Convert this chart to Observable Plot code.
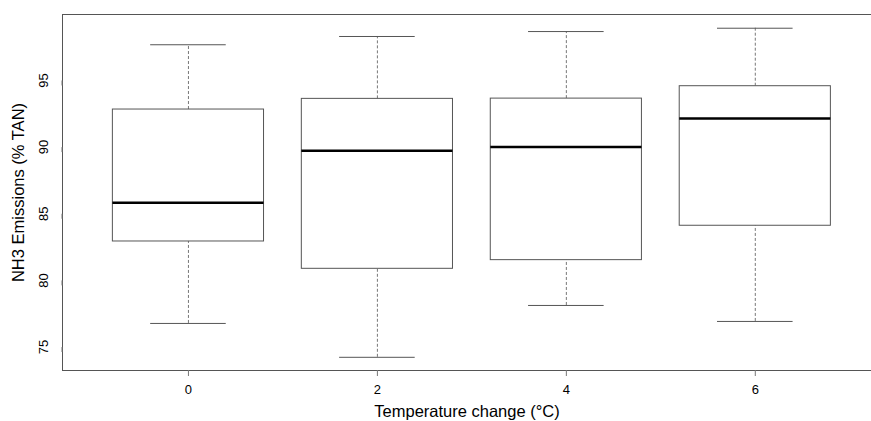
<!DOCTYPE html>
<html>
<head>
<meta charset="utf-8">
<script src="https://cdn.jsdelivr.net/npm/d3@7"></script>
<script src="https://cdn.jsdelivr.net/npm/@observablehq/plot@0.6"></script>
<style>
  html, body { margin: 0; padding: 0; background: #fff; }
  #chart svg { display: block; }
</style>
</head>
<body>
<div id="chart"></div>
<script>
// Temperature change groups (°C)
const groups = [0, 2, 4, 6];
// Box statistics for NH3 emissions (% TAN)
const lowerWhisker = [76.77, 74.23, 78.12, 76.92];
const q1 = [82.92, 80.87, 81.52, 84.10];
const median = [85.83, 89.73, 90.00, 92.15];
const q3 = [92.82, 93.62, 93.64, 94.57];
const upperWhisker = [97.68, 98.30, 98.67, 98.92];
const yTicks = [75, 80, 85, 90, 95];
const xTicks = [0, 2, 4, 6];

const data = groups.map((g, i) => ({
  g, lo: lowerWhisker[i], q1: q1[i], med: median[i], q3: q3[i], hi: upperWhisker[i]
}));

const boxHalf = 0.8, capHalf = 0.4;
const lineColor = "#555";
const font = "Liberation Sans, Arial, Helvetica, sans-serif";

const chart = Plot.plot({
  width: 871,
  height: 421,
  marginLeft: 62,
  marginRight: 0,
  marginTop: 14,
  marginBottom: 51,
  style: { fontFamily: font, fontSize: "13px", color: "#000", background: "#fff" },
  x: { domain: [-1.33, 7.23], range: [62.3, 871] },
  y: { domain: [73.24, 99.95] },
  marks: [
    // whiskers (dashed)
    Plot.ruleX(data, { x: "g", y1: "q3", y2: "hi", stroke: "#777", strokeDasharray: "3,2", strokeWidth: 1 }),
    Plot.ruleX(data, { x: "g", y1: "lo", y2: "q1", stroke: "#777", strokeDasharray: "3,2", strokeWidth: 1 }),
    // caps
    Plot.ruleY(data, { y: "hi", x1: d => d.g - capHalf, x2: d => d.g + capHalf, stroke: lineColor, strokeWidth: 1 }),
    Plot.ruleY(data, { y: "lo", x1: d => d.g - capHalf, x2: d => d.g + capHalf, stroke: lineColor, strokeWidth: 1 }),
    // boxes
    Plot.rect(data, { x1: d => d.g - boxHalf, x2: d => d.g + boxHalf, y1: "q1", y2: "q3", fill: "#fff", stroke: lineColor, strokeWidth: 1 }),
    // medians
    Plot.ruleY(data, { y: "med", x1: d => d.g - boxHalf, x2: d => d.g + boxHalf, stroke: "#000", strokeWidth: 2.5 }),
    // frame (no right edge: image cropped)
    Plot.frame({ anchor: "left", stroke: lineColor }),
    Plot.frame({ anchor: "top", stroke: lineColor }),
    Plot.frame({ anchor: "bottom", stroke: lineColor }),
    // axes
    Plot.axisY({
      ticks: yTicks, tickSize: 5, tickPadding: 14, stroke: "#777",
      rotate: -90, textAnchor: "middle", fontSize: 13,
      label: "NH3 Emissions (% TAN)", labelAnchor: "center", labelArrow: "none", labelOffset: 50
    }),
    Plot.axisX({
      ticks: xTicks, tickSize: 6, tickPadding: 8, stroke: "#777", fontSize: 13,
      label: "Temperature change (°C)", labelAnchor: "center", labelArrow: "none", labelOffset: 46
    })
  ]
});

// enlarge axis titles
chart.querySelectorAll("[aria-label='y-axis label'] text, [aria-label='x-axis label'] text").forEach(t => {
  t.setAttribute("font-size", "16.5px");
});
document.getElementById("chart").appendChild(chart);
</script>
</body>
</html>
